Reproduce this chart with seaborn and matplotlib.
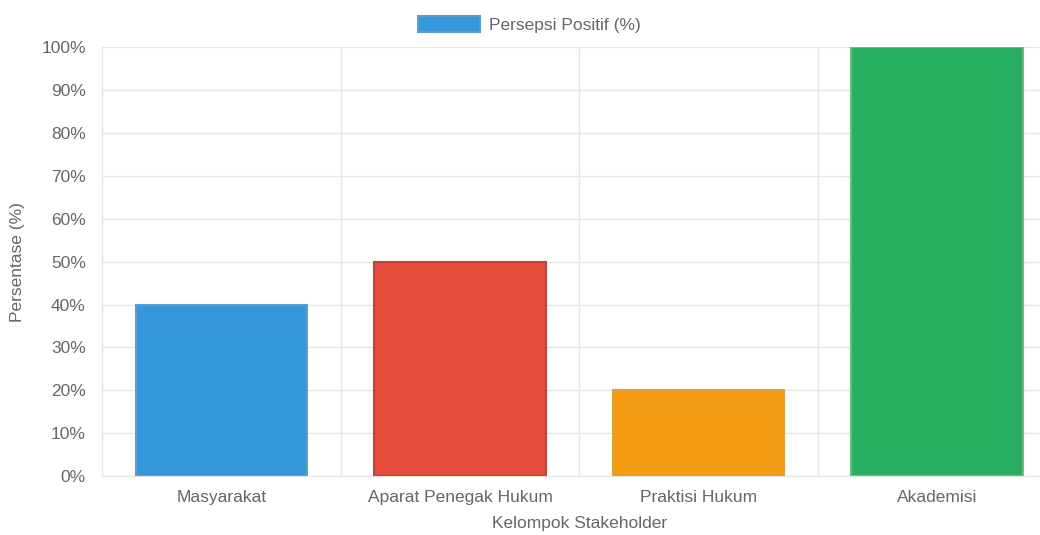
import pandas as pd
import matplotlib.pyplot as plt
import seaborn as sns
from matplotlib.patches import Patch
from matplotlib.ticker import FixedLocator, PercentFormatter

# Data
groups = ["Masyarakat", "Aparat Penegak Hukum", "Praktisi Hukum", "Akademisi"]
positive = [40, 50, 20, 100]
fill_colors = ["#3498db", "#e74c3c", "#f39c12", "#27ae60"]
edge_colors = ["#5b9fcf", "#b8463b", "#d9a04a", "#6fb98a"]

df = pd.DataFrame({"group": groups, "value": positive})

sns.set_style("white")
plt.rcParams["font.family"] = ["Liberation Sans", "DejaVu Sans"]

fig = plt.figure(figsize=(10.4, 5.35), dpi=100)
ax = fig.add_axes([0.0985, 0.110, 0.917, 0.802])

sns.barplot(data=df, x="group", y="value", hue="group", palette=fill_colors,
            saturation=1, width=0.72, legend=False, ax=ax, zorder=3)
for bar, ec in zip(ax.patches, edge_colors):
    bar.set_edgecolor(ec)
    bar.set_linewidth(1.5)

# Axes styling (Chart.js look)
grid_c = "#e6e6e6"
fs = 12.5
ax.set_xlim(-0.5, len(groups) - 0.5)
ax.set_ylim(0, 100)
ax.set_yticks(range(0, 101, 10))
ax.yaxis.set_major_formatter(PercentFormatter(decimals=0))
ax.xaxis.set_minor_locator(FixedLocator([i - 0.5 for i in range(len(groups) + 1)]))
ax.grid(True, axis="y", color=grid_c, linewidth=1, zorder=0)
ax.grid(True, axis="x", which="minor", color=grid_c, linewidth=1, zorder=0)
ax.tick_params(axis="y", length=8, width=1, color="#dcdcdc", labelcolor="#666666",
               labelsize=fs, pad=4)
ax.tick_params(axis="x", which="major", length=0, labelcolor="#666666", labelsize=fs, pad=10)
ax.tick_params(axis="x", which="minor", length=8, width=1, color="#dcdcdc")
for side in ["top", "right"]:
    ax.spines[side].set_visible(False)
ax.spines["left"].set_color(grid_c)
ax.spines["bottom"].set_color(grid_c)

ax.set_xlabel("Kelompok Stakeholder", color="#666666", fontsize=fs, labelpad=8)
ax.set_ylabel("Persentase (%)", color="#666666", fontsize=fs, labelpad=12)

handle = Patch(facecolor=fill_colors[0], edgecolor="#5b9fcf", linewidth=1.5)
fig.legend([handle], ["Persepsi Positif (%)"], loc="upper center",
           bbox_to_anchor=(0.509, 1.0), frameon=False, fontsize=fs,
           handlelength=3.6, handleheight=1.05, handletextpad=0.5,
           labelcolor="#666666")

fig.savefig("out.png", dpi=100)
